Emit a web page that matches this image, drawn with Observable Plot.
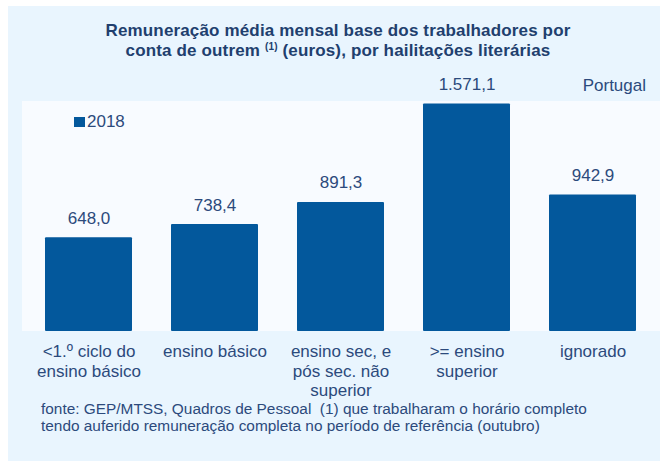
<!DOCTYPE html>
<html>
<head>
<meta charset="utf-8">
<script src="https://cdn.jsdelivr.net/npm/d3@7"></script>
<script src="https://cdn.jsdelivr.net/npm/@observablehq/plot@0.6"></script>
<style>
  html, body { margin: 0; padding: 0; background: #ffffff; }
  #wrap { position: relative; width: 660px; height: 461px; overflow: hidden; font-family: "Liberation Sans", Arial, sans-serif; }
  #panel { position: absolute; left: 8px; top: 6px; right: 0; bottom: 0; background: #e9f5fe; }
  #plotbg { position: absolute; left: 22px; top: 101px; width: 638px; height: 230px; background: #f8fbff; }
  #title { position: absolute; left: 18px; width: 640px; top: 21.1px; text-align: center; font-weight: bold; font-size: 17px; letter-spacing: 0.15px; line-height: 20px; color: #213f6e; }
  #title sup { font-size: 10px; vertical-align: 6px; line-height: 0; }
  #chart { position: absolute; left: 0; top: 60px; }
  #legend { position: absolute; left: 74px; top: 112.6px; font-size: 17px; line-height: 17px; color: #2c4a7c; white-space: nowrap; }
  #legend .sw { display: inline-block; width: 11px; height: 10px; margin-right: 2px; vertical-align: 0px; }
  #country { position: absolute; right: 14px; top: 76.6px; font-size: 17px; line-height: 17px; color: #2c4a7c; }
  #foot { position: absolute; left: 41px; top: 400.2px; font-size: 15.4px; line-height: 17px; color: #2c4a7c; white-space: pre; }
</style>
</head>
<body>
<div id="wrap">
  <div id="panel"></div>
  <div id="plotbg"></div>
  <div id="title">Remuneração média mensal base dos trabalhadores por<br>conta de outrem <sup>(1)</sup> (euros), por hailitações literárias</div>
  <div id="chart"></div>
  <div id="legend"></div>
  <div id="country"></div>
  <div id="foot"></div>
</div>
<script>
const categories = [
  "<1.º ciclo do\nensino básico",
  "ensino básico",
  "ensino sec, e\npós sec. não\nsuperior",
  ">= ensino\nsuperior",
  "ignorado"
];
const values2018 = [648.0, 738.4, 891.3, 1571.1, 942.9];
const seriesName = "2018";
const regionName = "Portugal";
const footnote = "fonte: GEP/MTSS, Quadros de Pessoal  (1) que trabalharam o horário completo\ntendo auferido remuneração completa no período de referência (outubro)";

const barColor = "#03589c";
const textColor = "#2c4a7c";

const pt = d3.formatLocale({decimal: ",", thousands: ".", grouping: [3], currency: ["", "€"]});
const fmt = pt.format(",.1f");

const data = categories.map((c, i) => ({cat: c, value: values2018[i]}));

const chart = Plot.plot({
  width: 660,
  height: 340,
  marginLeft: 22,
  marginRight: 0,
  marginTop: 41,
  marginBottom: 69,
  style: {fontFamily: '"Liberation Sans", Arial, sans-serif', fontSize: "17px", color: textColor, background: "transparent", overflow: "visible"},
  x: {domain: categories, paddingInner: 0.307, paddingOuter: 0.166, label: null},
  y: {domain: [0, 1588], axis: null},
  marks: [
    Plot.barY(data, {x: "cat", y: "value", fill: barColor, rx: 1}),
    Plot.text(data, {x: "cat", y: "value", text: d => fmt(d.value), dy: -14, lineAnchor: "bottom", fill: textColor, fontSize: 17}),
    Plot.axisX({tickSize: 0, tickPadding: 12, fontSize: 17, lineHeight: 1.15, fill: textColor, label: null})
  ]
});
document.getElementById("chart").appendChild(chart);

document.getElementById("legend").innerHTML = `<span class="sw" style="background:${barColor}"></span>${seriesName}`;
document.getElementById("country").textContent = regionName;
document.getElementById("foot").textContent = footnote;
</script>
</body>
</html>
